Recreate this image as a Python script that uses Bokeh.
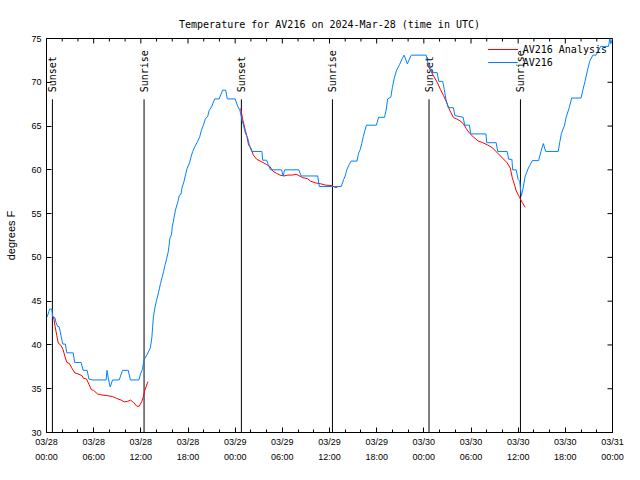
import math
from bokeh.plotting import figure
from bokeh.models import FixedTicker, Range1d, Legend, LegendItem
from bokeh.core.properties import value
from bokeh.embed import file_html
from bokeh.resources import INLINE

# ---------------- data (hours since 2024-03-28 00:00 UTC, degrees F) ----------------
title_text = "Temperature for AV216 on 2024-Mar-28 (time in UTC)"

tick_hours = [0, 6, 12, 18, 24, 30, 36, 42, 48, 54, 60, 66, 72]
tick_labels = ["03/28\n00:00", "03/28\n06:00", "03/28\n12:00", "03/28\n18:00",
               "03/29\n00:00", "03/29\n06:00", "03/29\n12:00", "03/29\n18:00",
               "03/30\n00:00", "03/30\n06:00", "03/30\n12:00", "03/30\n18:00",
               "03/31\n00:00"]
minor_hours = [h for h in range(0, 73, 2) if h % 6 != 0]
y_ticks = [30, 35, 40, 45, 50, 55, 60, 65, 70, 75]

event_hours = [0.75, 12.41, 24.79, 36.375, 48.66, 60.29]
event_names = ["Sunset", "Sunrise", "Sunset", "Sunrise", "Sunset", "Sunrise"]

obs_hours = [0.08, 0.3, 0.4, 0.67, 0.8, 1.08, 1.2, 1.42, 1.6, 1.75, 1.9, 2.08, 2.4, 2.58,
             3.4, 3.58, 4.4, 4.67, 5.17, 5.4, 5.9, 7.58, 7.7, 7.9, 8.1, 8.4, 9.25, 9.67,
             10.4, 10.67, 11.75, 11.96, 12.2, 12.4, 12.8, 13.2, 13.4, 13.5, 13.6, 13.8,
             14.0, 14.25, 14.5, 14.7, 14.9, 15.1, 15.3, 15.5, 15.6, 15.7, 15.9, 16.0,
             16.2, 16.4, 16.7, 16.9, 17.1, 17.25, 17.5, 17.7, 17.9, 18.2, 18.4, 18.6,
             18.9, 19.2, 19.5, 19.7, 19.96, 20.2, 20.5, 20.7, 21.0, 21.4, 21.96, 22.4,
             22.8, 23.0, 24.0, 24.3, 24.6, 24.9, 25.1, 25.3, 25.6, 25.8, 26.1, 27.4,
             27.5, 28.0, 28.2, 28.5, 29.9, 30.1, 30.3, 32.1, 32.4, 34.5, 34.7, 37.5,
             37.8, 38.0, 38.2, 38.5, 38.75, 39.5, 39.7, 39.9, 40.1, 40.3, 40.5, 40.7,
             41.96, 42.25, 43.0, 43.2, 43.4, 43.8, 44.0, 44.25, 44.5, 44.9, 45.3, 45.5,
             45.9, 46.4, 48.3, 48.4, 48.6, 49.0, 49.7, 49.9, 50.4, 50.6, 50.8, 51.1,
             51.75, 51.96, 53.0, 53.2, 53.8, 53.96, 55.9, 56.0, 57.2, 57.4, 58.6, 58.8,
             59.2, 59.3, 59.75, 60.0, 60.2, 60.4, 60.6, 60.9, 61.3, 61.8, 62.6, 62.9,
             63.2, 63.5, 65.1, 65.3, 65.5, 65.9, 66.1, 66.5, 66.8, 68.0, 68.2, 68.5,
             68.8, 69.1, 69.5, 69.9, 70.5, 71.5, 71.66, 71.8, 72.0]
obs_temps = [43.2, 43.8, 44.1, 44.1, 43.2, 43.1, 42.6, 42.1, 42.1, 41.5, 40.8, 40.1, 40.1, 39.1,
             39.1, 38.0, 38.0, 37.1, 37.1, 36.1, 36.0, 36.0, 37.1, 36.0, 35.2, 36.0, 36.0, 37.1,
             37.1, 36.0, 36.0, 36.7, 37.2, 38.3, 38.9, 39.65, 40.8, 42.1, 43.2, 44.3,
             45.1, 46.0, 47.0, 47.7, 48.4, 49.2, 49.9, 50.7, 51.4, 52.2, 52.6, 53.5,
             54.4, 55.4, 56.3, 57.1, 57.2, 58.0, 58.7, 59.5, 60.2, 60.8, 61.5, 62.1,
             62.7, 63.2, 63.8, 64.5, 65.1, 65.8, 66.1, 66.8, 67.2, 68.1, 68.1, 69.1,
             69.1, 68.1, 68.1, 67.3, 66.8, 65.6, 64.9, 64.2, 63.6, 62.85, 62.1, 62.1,
             61.1, 61.1, 60.6, 60.0, 60.0, 59.3, 60.0, 60.0, 59.3, 59.3, 58.1, 58.1,
             58.9, 59.3, 60.0, 60.6, 61.0, 61.0, 61.9, 62.3, 63.0, 63.8, 64.5, 65.1,
             65.1, 66.0, 66.0, 66.8, 68.1, 68.3, 69.4, 70.5, 71.3, 72.0, 72.8, 73.1,
             72.1, 73.1, 73.1, 72.6, 72.0, 71.1, 71.1, 70.1, 70.1, 69.2, 68.1, 67.1,
             67.1, 66.2, 66.0, 65.1, 65.1, 64.1, 64.1, 63.1, 63.1, 62.1, 62.1, 61.2,
             61.2, 60.0, 60.0, 58.9, 58.7, 57.0, 57.8, 59.3, 60.2, 61.05, 61.05, 62.1,
             63.0, 62.1, 62.1, 63.2, 64.15, 65.1, 66.0, 67.1, 68.2, 68.2, 69.0, 70.1,
             71.3, 72.4, 73.1, 73.1, 74.1, 74.1, 75.0, 74.4, 75.0]

ana1_hours = [0.7, 0.9, 1.1, 1.3, 1.5, 1.8, 2.1, 2.4, 2.6, 2.9, 3.2, 3.6, 4.0, 4.5, 4.7, 5.1,
              5.4, 5.7, 6.0, 6.5, 6.96, 7.8, 8.4, 8.9, 9.5, 9.9, 10.3, 10.7, 11.1, 11.5,
              11.8, 12.1, 12.3, 12.5, 12.7, 12.9]
ana1_temps = [43.3, 43.2, 42.1, 41.1, 40.2, 40.0, 39.5, 38.5, 38.0, 37.9, 37.4, 36.8, 36.7,
              36.5, 36.2, 36.1, 35.5, 34.9, 34.8, 34.4, 34.3, 34.2, 34.1, 33.9, 33.7, 33.5,
              33.55, 33.7, 33.4, 33.0, 33.0, 33.5, 34.0, 34.8, 35.3, 35.8]

ana2_hours = [24.7, 25.0, 25.3, 25.5, 25.7, 26.0, 26.3, 26.75, 27.4, 28.0, 28.4, 28.8, 29.25,
              29.7, 30.2, 30.7, 31.3, 31.75, 32.2, 32.6, 33.2, 33.6, 34.25, 34.9, 35.5, 36.3,
              36.7, 37.0]
ana2_temps = [67.0, 65.6, 64.5, 63.8, 62.85, 62.5, 61.7, 61.2, 60.9, 60.6, 60.4, 59.85, 59.6,
              59.4, 59.3, 59.4, 59.4, 59.5, 59.3, 59.1, 59.0, 58.7, 58.5, 58.4, 58.25, 58.2,
              58.0, 58.0]

ana3_hours = [48.4, 48.8, 49.25, 49.7, 50.1, 50.5, 50.9, 51.3, 51.75, 52.2, 52.6, 53.0, 53.4,
              53.8, 54.25, 54.9, 55.5, 56.1, 56.75, 57.4, 58.0, 58.6, 59.0, 59.25, 59.5,
              59.75, 60.1, 60.5, 60.9]
ana3_temps = [72.2, 71.45, 70.7, 70.0, 69.2, 68.5, 67.7, 66.8, 66.0, 65.8, 65.6, 65.3, 64.7,
              64.2, 63.8, 63.3, 63.1, 62.85, 62.5, 61.9, 61.35, 60.8, 60.2, 59.1, 58.4, 57.6,
              57.0, 56.3, 55.7]

# ---------------- styling ----------------
RED = "#ff0000"
BLUE = "#0080ff"
MONO = "DejaVu Sans Mono"
SANS = "Liberation Sans"
X0, X1, Y0, Y1 = 0, 72, 30, 75

p = figure(width=624, height=464, output_backend="svg", toolbar_location=None,
           x_range=Range1d(X0, X1), y_range=Range1d(Y0, Y1),
           min_border_left=46, min_border_right=12, min_border_top=38, min_border_bottom=31,
           title=title_text)
p.background_fill_color = "white"
p.border_fill_color = "white"
p.grid.visible = False
p.outline_line_color = "black"
p.outline_line_alpha = 1.0
p.outline_line_width = 1

p.title.align = "center"
p.title.text_font = MONO
p.title.text_font_size = "10px"
p.title.text_font_style = "normal"
p.title.text_color = "black"
p.title.standoff = 18

xt = FixedTicker(ticks=tick_hours, minor_ticks=minor_hours)
yt = FixedTicker(ticks=y_ticks, minor_ticks=[])

def style_axis(ax):
    ax.axis_line_color = "black"
    ax.major_tick_in = 5
    ax.major_tick_out = 0
    ax.minor_tick_in = 3
    ax.minor_tick_out = 0
    ax.major_tick_line_color = "black"
    ax.minor_tick_line_color = "black"
    ax.major_label_text_font = SANS
    ax.major_label_text_font_size = "9px"
    ax.major_label_text_color = "black"

xa = p.xaxis[0]
xa.ticker = xt
style_axis(xa)
xa.major_label_overrides = {float(h): lab for h, lab in zip(tick_hours, tick_labels)}
xa.major_label_standoff = 4
xa.major_label_text_line_height = 1.5

ya = p.yaxis[0]
ya.ticker = yt
style_axis(ya)
ya.major_label_standoff = 5
ya.axis_label = "degrees F"
ya.axis_label_text_font = SANS
ya.axis_label_text_font_size = "11px"
ya.axis_label_text_font_style = "normal"
ya.axis_label_text_color = "black"
ya.axis_label_standoff = 11

# mirrored ticks on top and right edges (clipped to the frame, so only the inner half shows)
p.scatter(x=tick_hours, y=[Y1] * len(tick_hours), marker="dash", angle=math.pi / 2,
          size=10, line_color="black", line_width=1)
p.scatter(x=minor_hours, y=[Y1] * len(minor_hours), marker="dash", angle=math.pi / 2,
          size=6, line_color="black", line_width=1)
p.scatter(x=[X1] * len(y_ticks), y=y_ticks, marker="dash", angle=0,
          size=10, line_color="black", line_width=1)

# sunrise / sunset markers
n_ev = len(event_hours)
p.segment(x0=event_hours, y0=[Y0] * n_ev, x1=event_hours, y1=[68.05] * n_ev,
          line_color="black", line_width=1)
p.text(x=event_hours, y=[68.85] * n_ev, text=event_names, angle=math.pi / 2,
       text_align="left", text_baseline="middle", text_font=value(MONO),
       text_font_size="10px", text_color="black")

# series
r_a1 = p.line(ana1_hours, ana1_temps, line_color=RED, line_width=1)
r_a2 = p.line(ana2_hours, ana2_temps, line_color=RED, line_width=1)
r_a3 = p.line(ana3_hours, ana3_temps, line_color=RED, line_width=1)
r_obs = p.line(obs_hours, obs_temps, line_color=BLUE, line_width=1)
r_mark = p.scatter(x=[], y=[], marker="cross", size=9, line_color=BLUE, line_width=1)

legend = Legend(items=[LegendItem(label="AV216 Analysis", renderers=[r_a1, r_a2, r_a3]),
                       LegendItem(label="AV216", renderers=[r_obs, r_mark])],
                location="top_right")
legend.background_fill_alpha = 0
legend.border_line_color = None
legend.label_text_font = MONO
legend.label_text_font_size = "10px"
legend.label_text_color = "black"
legend.label_height = 12
legend.glyph_height = 12
legend.glyph_width = 30
legend.spacing = 1
legend.padding = 2
legend.margin = 5
p.add_layout(legend)

open("out.html", "w").write(file_html(p, INLINE))
